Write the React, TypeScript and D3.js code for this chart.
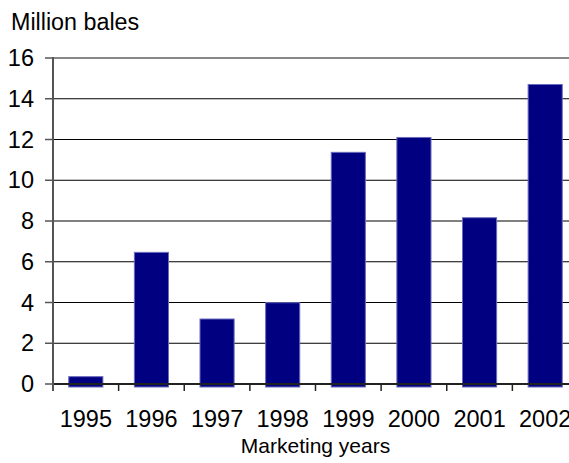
import React from "react";
import * as d3 from "d3";

const categories = ["1995", "1996", "1997", "1998", "1999", "2000", "2001", "2002"];
const values = [0.36, 6.46, 3.19, 3.99, 11.37, 12.1, 8.16, 14.7];
const yTicks = [0, 2, 4, 6, 8, 10, 12, 14, 16];
const yLabel = "Million bales";
const xLabel = "Marketing years";

const W = 569;
const H = 463;
const left = 53;
const right = 578;
const top = 58;
const bottom = 384;
const font = "'Liberation Sans', Arial, sans-serif";

export default function App() {
  const x = d3.scaleBand<string>().domain(categories).range([left, right]).padding(0);
  const y = d3.scaleLinear().domain([0, 16]).range([bottom, top]);
  const bw = x.bandwidth() * 0.52;
  return (
    <svg width={W} height={H} style={{ position: "absolute", left: 0, top: 0, background: "#fff" }} fontFamily={font}>
      <text x={11} y={30} fontSize={23.3} fill="#000">{yLabel}</text>
      {yTicks.filter((t) => t !== 0 && t !== 16).map((t) => (
        <line key={"g" + t} x1={left} x2={right} y1={y(t)} y2={y(t)} stroke="#000" strokeWidth={1} />
      ))}
      <line x1={left} x2={right} y1={y(16)} y2={y(16)} stroke="#888" strokeWidth={2} />
      {categories.map((c, i) => (
        <rect
          key={c}
          x={(x(c) as number) + (x.bandwidth() - bw) / 2}
          y={y(values[i])}
          width={bw}
          height={y(0) + 3 - y(values[i])}
          fill="#000080"
          stroke="#6b6bbd"
          strokeWidth={1}
        />
      ))}
      <line x1={left} x2={right} y1={y(0)} y2={y(0)} stroke="#222" strokeWidth={2} />
      <line x1={left} x2={left} y1={y(16) - 1} y2={y(0) + 7} stroke="#555" strokeWidth={2} />
      {yTicks.map((t) => (
        <g key={"t" + t}>
          <line x1={left - 8} x2={left} y1={y(t)} y2={y(t)} stroke="#555" strokeWidth={1.5} />
          <text x={34} y={y(t) + 8} fontSize={23.5} textAnchor="end" fill="#000">{t}</text>
        </g>
      ))}
      {categories.map((c) => (
        <g key={"x" + c}>
          <line x1={(x(c) as number) + x.bandwidth()} x2={(x(c) as number) + x.bandwidth()} y1={y(0)} y2={y(0) + 7} stroke="#222" strokeWidth={1.5} />
          <text x={(x(c) as number) + x.bandwidth() / 2} y={427} fontSize={23.5} textAnchor="middle" fill="#000">{c}</text>
        </g>
      ))}
      <text x={(left + right) / 2} y={453} fontSize={21} textAnchor="middle" fill="#000">{xLabel}</text>
    </svg>
  );
}
